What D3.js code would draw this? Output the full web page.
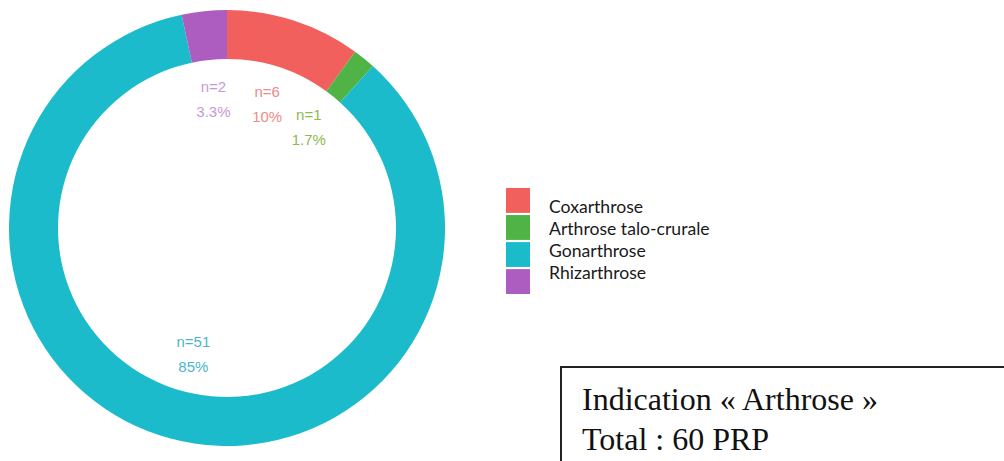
<!DOCTYPE html>
<html>
<head>
<meta charset="utf-8">
<script src="https://cdn.jsdelivr.net/npm/d3@7"></script>
<style>
  html, body { margin: 0; padding: 0; background: #fff; }
  svg { display: block; }
</style>
</head>
<body>
<svg id="chart" width="1004" height="461"></svg>
<script>
// Indications "Arthrose" — number of PRP injections per location
const categories = ["Coxarthrose", "Arthrose talo-crurale", "Gonarthrose", "Rhizarthrose"];
const counts = [6, 1, 51, 2];
const boxLines = ["Indication « Arthrose »", "Total : 60 PRP"];

const total = d3.sum(counts);
const data = categories.map((c, i) => ({ name: c, n: counts[i], pct: counts[i] / total * 100 }));
const fmtPct = p => (Math.round(p * 10) / 10).toString() + "%";

const svg = d3.select("#chart");

const color = d3.scaleOrdinal()
  .domain(categories)
  .range(["#f2605e", "#4fb445", "#1cbbcb", "#ad5cbf"]);
const labelColor = d3.scaleOrdinal()
  .domain(categories)
  .range(["#ef8a88", "#8fb950", "#4db5cb", "#c79ad6"]);

// ---- donut ----
const cx = 227, cy = 228;
const outerR = 218, innerR = 169, labelR = 130;

const pie = d3.pie().sort(null).value(d => d.n);
const arcs = pie(data);
const arc = d3.arc().innerRadius(innerR).outerRadius(outerR);
const labelArc = d3.arc().innerRadius(labelR).outerRadius(labelR);

const g = svg.append("g").attr("transform", `translate(${cx},${cy})`);

g.selectAll("path.slice")
  .data(arcs)
  .join("path")
  .attr("class", "slice")
  .attr("d", arc)
  .attr("fill", d => color(d.data.name));

const lbl = g.selectAll("text.lbl")
  .data(arcs)
  .join("text")
  .attr("class", "lbl")
  .attr("transform", d => `translate(${labelArc.centroid(d)})`)
  .attr("text-anchor", "middle")
  .attr("font-family", "'Liberation Sans', Arial, sans-serif")
  .attr("font-size", 15)
  .attr("fill", d => labelColor(d.data.name));
lbl.append("tspan").attr("x", 0).attr("y", -7).text(d => "n=" + d.data.n);
lbl.append("tspan").attr("x", 0).attr("y", 18).text(d => fmtPct(d.data.pct));

// ---- legend ----
const keyY = d3.scaleBand().domain(categories).range([188, 294]).paddingInner(0.08);
const textY = d3.scalePoint().domain(categories).range([207, 273]);

const legend = svg.append("g");
legend.selectAll("rect")
  .data(categories)
  .join("rect")
  .attr("x", 506)
  .attr("y", d => keyY(d))
  .attr("width", 24)
  .attr("height", keyY.bandwidth())
  .attr("fill", d => color(d));

legend.selectAll("text")
  .data(categories)
  .join("text")
  .attr("x", 549)
  .attr("y", d => textY(d))
  .attr("dy", "0.35em")
  .attr("font-family", "Lato, 'Open Sans', sans-serif")
  .attr("font-size", 17.6)
  .attr("fill", "#1a1a1a")
  .text(d => d);

// ---- caption box ----
svg.append("rect")
  .attr("x", 561).attr("y", 367)
  .attr("width", 600).attr("height", 200)
  .attr("fill", "none")
  .attr("stroke", "#222")
  .attr("stroke-width", 2);

svg.selectAll("text.box")
  .data(boxLines)
  .join("text")
  .attr("class", "box")
  .attr("x", 582)
  .attr("y", (d, i) => 410 + i * 40)
  .attr("font-family", "'Liberation Serif', 'Times New Roman', serif")
  .attr("font-size", 32)
  .attr("fill", "#111")
  .text(d => d);
</script>
</body>
</html>
